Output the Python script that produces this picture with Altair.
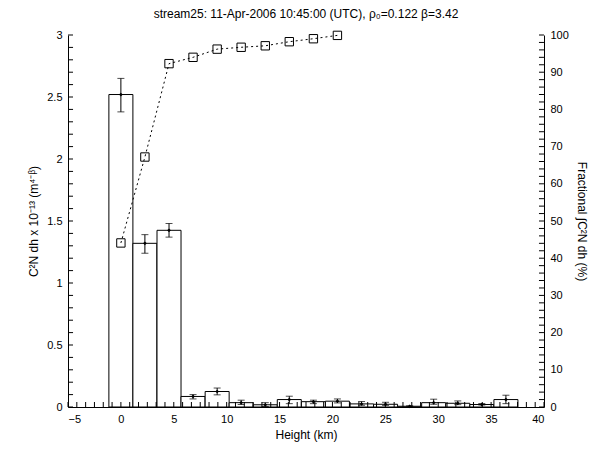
import altair as alt
import pandas as pd
import numpy as np

# ---- data ----
heights = [0.0, 2.27, 4.55, 6.82, 9.10, 11.37, 13.65, 15.92, 18.20, 20.47,
           22.75, 25.02, 27.30, 29.57, 31.85, 34.12, 36.40]
cn2 = [2.52, 1.32, 1.425, 0.085, 0.125, 0.035, 0.018, 0.060, 0.043, 0.047,
       0.025, 0.022, 0.006, 0.035, 0.030, 0.020, 0.060]
err_lo = [2.38, 1.24, 1.37, 0.065, 0.098, 0.020, 0.004, 0.027, 0.027, 0.033,
          0.014, 0.013, 0.002, 0.022, 0.019, 0.016, 0.027]
err_hi = [2.65, 1.39, 1.48, 0.100, 0.153, 0.055, 0.035, 0.087, 0.055, 0.065,
          0.044, 0.038, 0.010, 0.063, 0.049, 0.028, 0.095]
cum_heights = [0.0, 2.27, 4.55, 6.82, 9.10, 11.37, 13.65, 15.92, 18.20, 20.47]
cum_pct = [44.1, 67.2, 92.3, 94.0, 96.2, 96.7, 97.1, 98.2, 99.0, 99.9]
bar_width = 2.27

x_labels = [-5, 0, 5, 10, 15, 20, 25, 30, 35, 40]
y_labels = [0, 0.5, 1, 1.5, 2, 2.5, 3]
r_labels = [0, 10, 20, 30, 40, 50, 60, 70, 80, 90, 100]
x_minor = [float(v) for v in np.round(np.arange(-5, 40.001, 5 / 6), 4)]
y_minor = [float(v) for v in np.round(np.arange(0, 3.001, 0.1), 4)]
r_minor = [float(v) for v in range(0, 101, 2)]

title_text = "stream25: 11-Apr-2006 10:45:00 (UTC), ρ₀=0.122 β=3.42"
x_title = "Height (km)"
y_title = "C²N dh x 10⁻¹³ (m⁴⁻ᵝ)"
r_title = "Fractional ∫C²N dh  (%)"

TOTAL_W, TOTAL_H = 587, 436
FONT = "Liberation Sans"
# half of the inward tick length (about 2.5 px), in data units of each scale
HX, HY = 0.24, 0.0205

bars = pd.DataFrame({
    "h": heights,
    "left": [h - bar_width / 2 for h in heights],
    "right": [h + bar_width / 2 for h in heights],
    "v": cn2, "lo": err_lo, "hi": err_hi,
})
cum = pd.DataFrame({"h": cum_heights, "p": cum_pct})
xt = pd.DataFrame({"h": x_minor, "v": [HY] * len(x_minor)})
yt = pd.DataFrame({"h": [-5.0 + HX] * len(y_minor), "v": y_minor})
rt = pd.DataFrame({"h": [40.0 - HX] * len(r_minor), "p": r_minor})

xs = alt.Scale(domain=[-5, 40], nice=False, zero=False)
ys = alt.Scale(domain=[0, 3], nice=False, zero=False)
rs = alt.Scale(domain=[0, 100], nice=False, zero=False)

x_axis = alt.Axis(values=x_labels, labelPadding=6, titlePadding=5, format="~f")
y_axis = alt.Axis(values=y_labels, labelPadding=6, titlePadding=6, format="~f", orient="left")
r_axis = alt.Axis(values=r_labels, labelPadding=6, titlePadding=6, format="~f", orient="right")


def X(f):
    return alt.X(f, type="quantitative", scale=xs, axis=x_axis, title=x_title)


def Y(f):
    return alt.Y(f, type="quantitative", scale=ys, axis=y_axis, title=y_title)


def R(f):
    return alt.Y(f, type="quantitative", scale=rs, axis=r_axis, title=r_title)


bar_layer = alt.Chart(bars).mark_rect(fill="white", stroke="black", strokeWidth=1).encode(
    x=X("left"), x2="right", y=Y("v"), y2=alt.datum(0),
)
err_rule = alt.Chart(bars).mark_rule(color="black", strokeWidth=1).encode(
    x=X("h"), y=Y("lo"), y2="hi",
)
cap_lo = alt.Chart(bars).mark_tick(color="black", thickness=1, size=7, orient="horizontal").encode(
    x=X("h"), y=Y("lo"),
)
cap_hi = alt.Chart(bars).mark_tick(color="black", thickness=1, size=7, orient="horizontal").encode(
    x=X("h"), y=Y("hi"),
)
dots = alt.Chart(bars).mark_point(shape="diamond", filled=True, size=14, color="black", opacity=1).encode(
    x=X("h"), y=Y("v"),
)
x_ticks = alt.Chart(xt).mark_tick(color="black", thickness=1, size=5, orient="vertical", opacity=1).encode(
    x=X("h"), y=Y("v"),
)
y_ticks = alt.Chart(yt).mark_tick(color="black", thickness=1, size=5, orient="horizontal", opacity=1).encode(
    x=X("h"), y=Y("v"),
)
left = alt.layer(bar_layer, err_rule, cap_lo, cap_hi, dots, x_ticks, y_ticks)

cum_line = alt.Chart(cum).mark_line(color="black", strokeWidth=1, strokeDash=[2, 3]).encode(
    x=X("h"), y=R("p"),
)
cum_pts = alt.Chart(cum).mark_point(shape="square", filled=False, size=70, color="black",
                                     strokeWidth=1, opacity=1).encode(
    x=X("h"), y=R("p"),
)
r_ticks = alt.Chart(rt).mark_tick(color="black", thickness=1, size=5, orient="horizontal", opacity=1).encode(
    x=X("h"), y=R("p"),
)
right = alt.layer(cum_line, cum_pts, r_ticks)

chart = alt.layer(left, right).resolve_scale(y="independent").properties(
    width=TOTAL_W, height=TOTAL_H,
    autosize=alt.AutoSizeParams(type="fit", contains="padding"),
    title=alt.TitleParams(title_text, fontSize=12, font=FONT, fontWeight="normal",
                          color="black", offset=8, anchor="middle"),
    padding={"left": 19, "top": 0, "right": 7, "bottom": 4},
).configure_view(stroke=None).configure_axis(
    domainColor="black", labelColor="black", titleColor="black", grid=False, tickSize=0,
    labelFont=FONT, titleFont=FONT, labelFontSize=11, titleFontSize=12,
    titleFontWeight="normal",
)

chart.save("out.html", embed_options={"renderer": "svg", "actions": False})
